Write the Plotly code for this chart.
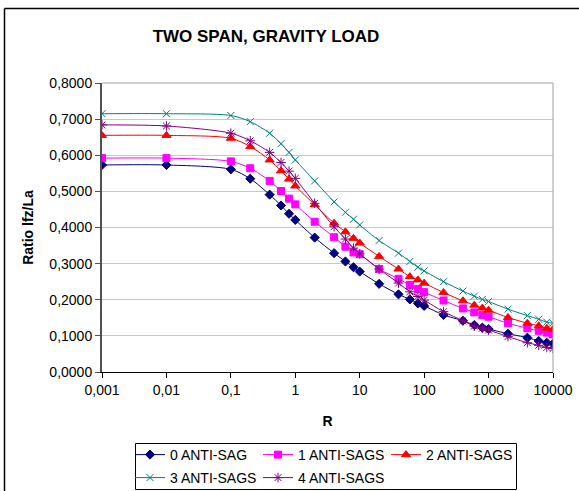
import plotly.graph_objects as go

R = [0.001, 0.01, 0.1, 0.2, 0.4, 0.6, 0.8, 1, 2, 4, 6, 8, 10, 20, 40, 60, 80, 100,
     200, 400, 600, 800, 1000, 2000, 4000, 6000, 8000, 10000]

s0 = [0.573, 0.573, 0.561, 0.535, 0.491, 0.461, 0.438, 0.421, 0.372, 0.329, 0.306, 0.290, 0.278,
      0.244, 0.215, 0.201, 0.190, 0.183, 0.158, 0.142, 0.130, 0.123, 0.119, 0.106, 0.095, 0.086, 0.081, 0.078]
s1 = [0.592, 0.592, 0.583, 0.564, 0.529, 0.501, 0.480, 0.464, 0.416, 0.373, 0.347, 0.331, 0.326,
      0.285, 0.258, 0.241, 0.230, 0.221, 0.198, 0.176, 0.165, 0.158, 0.153, 0.135, 0.121, 0.114, 0.109, 0.104]
s2 = [0.655, 0.655, 0.647, 0.624, 0.587, 0.557, 0.534, 0.515, 0.463, 0.412, 0.388, 0.370, 0.357,
      0.320, 0.285, 0.264, 0.255, 0.246, 0.220, 0.197, 0.185, 0.177, 0.171, 0.151, 0.135, 0.128, 0.121, 0.118]
s3 = [0.715, 0.715, 0.710, 0.693, 0.661, 0.632, 0.608, 0.587, 0.529, 0.471, 0.442, 0.423, 0.407,
      0.364, 0.329, 0.306, 0.290, 0.280, 0.250, 0.224, 0.210, 0.201, 0.195, 0.174, 0.156, 0.146, 0.138, 0.135]
s4 = [0.684, 0.681, 0.661, 0.640, 0.608, 0.580, 0.556, 0.536, 0.467, 0.402, 0.368, 0.343, 0.327,
      0.285, 0.246, 0.222, 0.209, 0.199, 0.167, 0.142, 0.127, 0.121, 0.116, 0.098, 0.081, 0.074, 0.068, 0.065]

names = ["0 ANTI-SAG", "1 ANTI-SAGS", "2 ANTI-SAGS", "3 ANTI-SAGS", "4 ANTI-SAGS"]
series = [s0, s1, s2, s3, s4]
colors = ["#000080", "#FF00FF", "#FF0000", "#008080", "#800080"]
symbols = ["diamond", "square", "triangle-up", "x-thin-open", "asterisk-open"]
sizes = [7, 7, 8, 7, 8]
legends = ["legend", "legend", "legend", "legend2", "legend2"]

xtickvals = [0.001, 0.01, 0.1, 1, 10, 100, 1000, 10000]
xticktext = ["0,001", "0,01", "0,1", "1", "10", "100", "1000", "10000"]

W, H = 579, 491
L, Rm, T, B = 102, 26, 83, 119
pw, ph = W - L - Rm, H - T - B

def px(x):
    return (x - L) / pw

def py(y):
    return (H - B - y) / ph

fig = go.Figure()
for nm, s, c, sym, sz, lg in zip(names, series, colors, symbols, sizes, legends):
    fig.add_trace(go.Scatter(
        x=R, y=s, name=nm, mode="lines+markers",
        line=dict(color=c, width=1, shape="spline", smoothing=0.8),
        marker=dict(symbol=sym, size=sz, color=c, line=dict(color=c, width=1)),
        legend=lg,
    ))

font = "Liberation Sans, Arial, sans-serif"
fig.update_layout(
    width=W, height=H,
    margin=dict(l=L, r=Rm, t=T, b=B, autoexpand=False),
    paper_bgcolor="white", plot_bgcolor="white",
    separators=",.",
    font=dict(family=font, size=14, color="black"),
    title=dict(text="<b>TWO SPAN, GRAVITY LOAD</b>", x=266 / W, xanchor="center",
               y=1 - 36 / H, yanchor="middle", font=dict(size=17, family=font)),
    showlegend=True,
    legend=dict(orientation="h", x=px(130), xanchor="left", y=py(439), yanchor="top",
                entrywidth=83, entrywidthmode="pixels", bgcolor="rgba(0,0,0,0)",
                borderwidth=0, font=dict(size=14, family=font), itemwidth=30),
    legend2=dict(orientation="h", x=px(130), xanchor="left", y=py(462), yanchor="top",
                 entrywidth=83, entrywidthmode="pixels", bgcolor="rgba(0,0,0,0)",
                 borderwidth=0, font=dict(size=14, family=font), itemwidth=30),
    xaxis=dict(type="log", range=[-3, 4], tickvals=xtickvals, ticktext=xticktext,
               showgrid=False, showline=True, linecolor="black", linewidth=1,
               ticks="outside", ticklen=5, tickcolor="black",
               title=dict(text="<b>R</b>", font=dict(size=14), standoff=19),
               zeroline=False, automargin=False),
    yaxis=dict(range=[0, 0.8], dtick=0.1, tick0=0, tickformat=".4f",
               showgrid=True, gridcolor="#c8c8c8", gridwidth=1,
               showline=True, linecolor="#505050", linewidth=2,
               ticks="outside", ticklen=5, tickcolor="#505050",
               title=dict(text="<b>Ratio lfz/La</b>", font=dict(size=14), standoff=12),
               zeroline=False, automargin=False),
    shapes=[
        dict(type="line", xref="paper", yref="paper", x0=0, x1=1, y0=1, y1=1,
             line=dict(color="#a0a0a0", width=1)),
        dict(type="line", xref="paper", yref="paper", x0=1, x1=1, y0=0, y1=1,
             line=dict(color="#a0a0a0", width=1)),
        dict(type="line", xref="paper", yref="paper", x0=px(4.5), x1=px(4.5), y0=py(8.5), y1=py(495),
             line=dict(color="black", width=1.5)),
        dict(type="line", xref="paper", yref="paper", x0=px(4.5), x1=px(585), y0=py(8.5), y1=py(8.5),
             line=dict(color="black", width=1.5)),
        dict(type="rect", xref="paper", yref="paper", x0=px(135.5), x1=px(516.5), y0=py(443.5), y1=py(489.5),
             line=dict(color="black", width=1), fillcolor="rgba(0,0,0,0)"),
    ],
)

fig.write_html("out.html")
